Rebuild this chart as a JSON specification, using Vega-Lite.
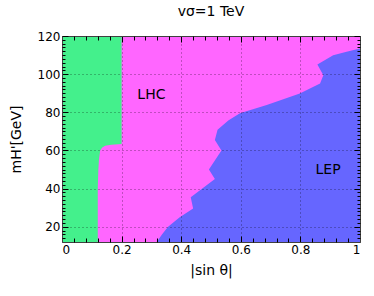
{
  "$schema": "https://vega.github.io/schema/vega-lite/v6.json",
  "autosize": {"type": "none"},
  "padding": {"left": 62, "top": 36, "right": 14, "bottom": 54},
  "width": 298,
  "height": 206,
  "background": "white",
  "title": {"text": "vσ=1 TeV", "font": "DejaVu Sans", "fontSize": 14, "fontWeight": "normal", "color": "black", "offset": 11},
  "config": {
    "view": {"stroke": null},
    "axis": {"labelFont": "DejaVu Sans", "labelFontSize": 12, "labelColor": "black", "titleFont": "DejaVu Sans", "titleFontSize": 14, "titleFontWeight": "normal", "titleColor": "black", "tickColor": "black", "domainColor": "#404040"}
  },
  "datasets": {
    "frame": [{"y": 12}, {"y": 120}],
    "green": [
      {"y": 12, "x": 0.12}, {"y": 20, "x": 0.12}, {"y": 30, "x": 0.12}, {"y": 40, "x": 0.12},
      {"y": 50, "x": 0.122}, {"y": 55, "x": 0.124}, {"y": 60, "x": 0.128}, {"y": 61.5, "x": 0.135},
      {"y": 62.5, "x": 0.145}, {"y": 63, "x": 0.165}, {"y": 63.4, "x": 0.2}, {"y": 120, "x": 0.2}
    ],
    "blue": [
      {"y": 12, "x": 0.318}, {"y": 16, "x": 0.336}, {"y": 20, "x": 0.356}, {"y": 25, "x": 0.395},
      {"y": 29.5, "x": 0.44}, {"y": 35.5, "x": 0.432}, {"y": 45, "x": 0.513}, {"y": 50, "x": 0.493},
      {"y": 60, "x": 0.535}, {"y": 65.5, "x": 0.513}, {"y": 70.8, "x": 0.522}, {"y": 75.7, "x": 0.558},
      {"y": 79.5, "x": 0.597}, {"y": 83.8, "x": 0.687}, {"y": 89.9, "x": 0.798}, {"y": 95.1, "x": 0.866},
      {"y": 99.4, "x": 0.877}, {"y": 105, "x": 0.857}, {"y": 109.9, "x": 0.91}, {"y": 111.7, "x": 0.955},
      {"y": 113.5, "x": 1.0}
    ],
    "labels": [{"x": 0.3, "y": 89, "t": "LHC"}, {"x": 0.893, "y": 49.6, "t": "LEP"}]
  },
  "layer": [
    {
      "data": {"name": "frame"},
      "mark": {"type": "area", "orient": "horizontal", "color": "#FF66FF"},
      "encoding": {
        "y": {"field": "y", "type": "quantitative", "scale": {"domain": [12, 120], "nice": false, "zero": false}, "axis": null},
        "x": {"datum": 0, "type": "quantitative", "scale": {"domain": [0, 1], "nice": false, "zero": false}, "axis": null},
        "x2": {"datum": 1}
      }
    },
    {
      "data": {"name": "green"},
      "mark": {"type": "area", "orient": "horizontal", "color": "#44F08C"},
      "encoding": {
        "y": {"field": "y", "type": "quantitative", "axis": {"zindex": 2, "title": "mH'[GeV]", "values": [20, 40, 60, 80, 100, 120], "tickSize": -6, "labelPadding": 8, "grid": true, "gridColor": "black", "gridOpacity": 0.5, "gridDash": [1, 3], "titlePadding": 14}},
        "x": {"field": "x", "type": "quantitative", "axis": {"zindex": 2, "title": "|sin θ|", "values": [0, 0.2, 0.4, 0.6, 0.8, 1], "format": "~g", "tickSize": -6, "labelPadding": 8, "grid": true, "gridColor": "black", "gridOpacity": 0.5, "gridDash": [1, 3], "titlePadding": 8}},
        "x2": {"datum": 0}
      }
    },
    {
      "data": {"name": "blue"},
      "mark": {"type": "area", "orient": "horizontal", "color": "#6666FF"},
      "encoding": {
        "y": {"field": "y", "type": "quantitative", "axis": {"zindex": 2, "orient": "right", "title": null, "values": [20, 40, 60, 80, 100, 120], "tickSize": -6, "labels": false, "grid": false}},
        "x": {"field": "x", "type": "quantitative", "axis": {"zindex": 2, "orient": "top", "title": null, "values": [0, 0.2, 0.4, 0.6, 0.8, 1], "tickSize": -6, "labels": false, "grid": false}},
        "x2": {"datum": 1}
      }
    },
    {
      "data": {"name": "labels"},
      "transform": [{"filter": "datum.t == 'LHC'"}],
      "mark": {"type": "text", "font": "DejaVu Sans", "fontSize": 14, "color": "black"},
      "encoding": {
        "y": {"field": "y", "type": "quantitative", "axis": {"zindex": 2, "title": null, "values": [14, 16, 18, 22, 24, 26, 28, 30, 32, 34, 36, 38, 42, 44, 46, 48, 50, 52, 54, 56, 58, 62, 64, 66, 68, 70, 72, 74, 76, 78, 82, 84, 86, 88, 90, 92, 94, 96, 98, 102, 104, 106, 108, 110, 112, 114, 116, 118], "tickSize": -3, "labels": false, "grid": false, "domain": false}},
        "x": {"field": "x", "type": "quantitative", "axis": {"zindex": 2, "title": null, "values": [0.04, 0.08, 0.12, 0.16, 0.24, 0.28, 0.32, 0.36, 0.44, 0.48, 0.52, 0.56, 0.64, 0.68, 0.72, 0.76, 0.84, 0.88, 0.92, 0.96], "tickSize": -4, "labels": false, "grid": false, "domain": false}},
        "text": {"field": "t"}
      }
    },
    {
      "data": {"name": "labels"},
      "transform": [{"filter": "datum.t == 'LEP'"}],
      "mark": {"type": "text", "font": "DejaVu Sans", "fontSize": 14, "color": "black"},
      "encoding": {
        "y": {"field": "y", "type": "quantitative", "axis": {"zindex": 2, "orient": "right", "title": null, "values": [14, 16, 18, 22, 24, 26, 28, 30, 32, 34, 36, 38, 42, 44, 46, 48, 50, 52, 54, 56, 58, 62, 64, 66, 68, 70, 72, 74, 76, 78, 82, 84, 86, 88, 90, 92, 94, 96, 98, 102, 104, 106, 108, 110, 112, 114, 116, 118], "tickSize": -3, "labels": false, "grid": false, "domain": false}},
        "x": {"field": "x", "type": "quantitative", "axis": {"zindex": 2, "orient": "top", "title": null, "values": [0.04, 0.08, 0.12, 0.16, 0.24, 0.28, 0.32, 0.36, 0.44, 0.48, 0.52, 0.56, 0.64, 0.68, 0.72, 0.76, 0.84, 0.88, 0.92, 0.96], "tickSize": -4, "labels": false, "grid": false, "domain": false}},
        "text": {"field": "t"}
      }
    }
  ],
  "resolve": {"axis": {"x": "independent", "y": "independent"}}
}
